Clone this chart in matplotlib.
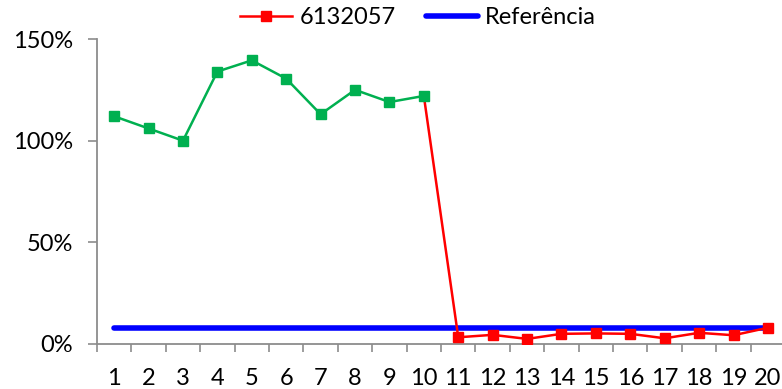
import matplotlib.pyplot as plt
from matplotlib.ticker import FixedLocator, PercentFormatter

plt.rcParams['font.family'] = ['Lato', 'DejaVu Sans']

days = list(range(1, 21))
# percentage of the reference reached by station 6132057, day by day
first_days = days[:10]
first_values = [112, 106, 100, 134, 139.5, 130.5, 113, 125, 119, 122]
later_days = days[10:]
later_values = [3.3, 4.5, 2.5, 5.0, 5.2, 5.0, 2.8, 5.5, 4.3, 8.0]
reference_value = 8.0

green = '#00B050'
red = '#FF0000'
blue = '#0000FF'
grey = '#8C8C8C'

fig = plt.figure(figsize=(7.82, 3.89), dpi=100)
ax = fig.add_axes([0.124, 0.1157, 0.880, 0.784])

# red series drawn from day 10 so the drop connects to the green part
ax.plot([first_days[-1]] + later_days, [first_values[-1]] + later_values,
        color=red, lw=1.8, marker='s', ms=7, markevery=list(range(1, 11)),
        label='6132057', zorder=3)
ax.plot(first_days, first_values, color=green, lw=1.8, marker='s', ms=7,
        zorder=4)
ax.plot([days[0], days[-1]], [reference_value, reference_value], color=blue,
        lw=4, solid_capstyle='round', label='Referência', zorder=2)

ax.set_xlim(0.5, 20.5)
ax.set_ylim(0, 150)

ax.xaxis.set_major_locator(FixedLocator(days))
ax.xaxis.set_minor_locator(FixedLocator([d - 0.5 for d in days] + [20.5]))
ax.set_yticks([0, 50, 100, 150])
ax.yaxis.set_major_formatter(PercentFormatter(decimals=0))

ax.tick_params(axis='x', which='major', length=0, pad=17, labelsize=17)
ax.tick_params(axis='x', which='minor', length=6, width=1.2, color=grey,
               direction='out')
ax.tick_params(axis='y', length=6.5, width=1.2, color=grey, pad=11,
               labelsize=17)

for side in ('top', 'right'):
    ax.spines[side].set_visible(False)
for side in ('left', 'bottom'):
    ax.spines[side].set_color(grey)
    ax.spines[side].set_linewidth(1.3)

fig.legend(loc='center', bbox_to_anchor=(0.535, 0.954), ncol=2,
           frameon=False, fontsize=17, handlelength=2.2,
           handletextpad=0.3, columnspacing=1.3)

fig.savefig('out.png', dpi=100)
